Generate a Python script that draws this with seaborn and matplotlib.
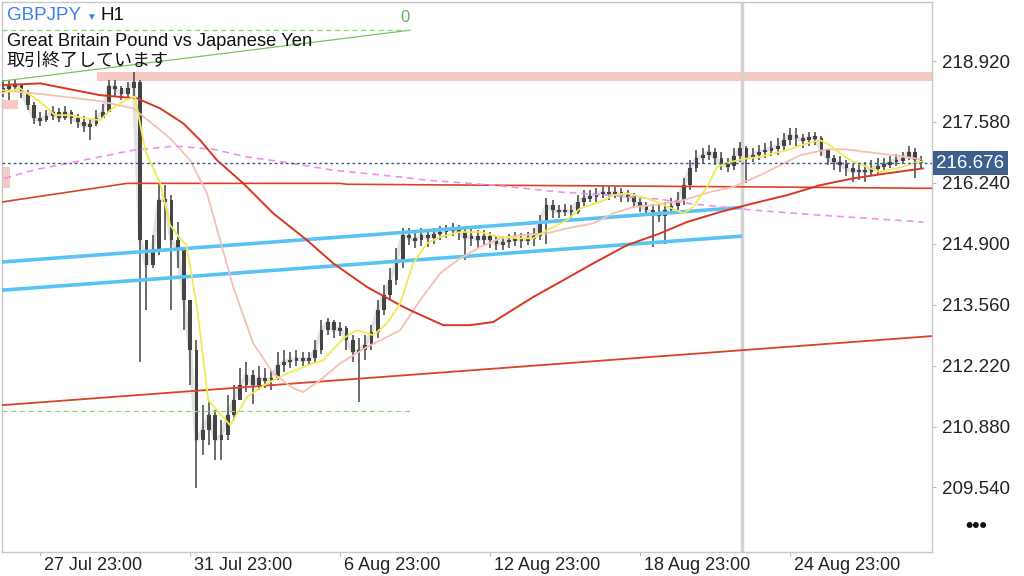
import numpy as np
import pandas as pd
import seaborn as sns
import matplotlib
matplotlib.use("Agg")
import matplotlib.pyplot as plt
from matplotlib.patches import Rectangle
from matplotlib import transforms

# GBPJPY H1 chart, resampled to 4h bars
closes = [218.32, 218.37, 218.41, 218.24, 217.95, 217.66, 217.62, 217.71, 217.80, 217.66,
          217.80, 217.66, 217.58, 217.49, 217.53, 217.66, 217.80, 218.37, 218.32, 218.19,
          218.32, 218.46, 214.98, 214.43, 214.76, 215.86, 215.86, 214.98, 214.76, 213.66,
          212.56, 210.58, 210.80, 211.13, 210.58, 210.69, 211.13, 211.46, 211.79, 212.01,
          211.79, 211.94, 211.90, 211.94, 212.23, 212.30, 212.34, 212.38, 212.34, 212.38,
          212.56, 213.00, 213.18, 213.00, 213.04, 212.78, 212.52, 212.56, 212.67, 212.96,
          213.44, 213.77, 214.10, 214.54, 215.09, 215.02, 214.98, 215.09, 215.02, 215.11,
          215.16, 215.20, 215.24, 215.16, 215.02, 215.07, 214.98, 215.07, 214.98, 214.89,
          214.94, 214.98, 215.02, 214.98, 215.02, 215.07, 215.38, 215.75, 215.64, 215.60,
          215.64, 215.60, 215.82, 215.90, 215.95, 215.99, 216.04, 215.99, 216.04, 215.95,
          215.95, 215.82, 215.73, 215.64, 215.60, 215.51, 215.64, 215.73, 215.86, 216.19,
          216.56, 216.78, 216.85, 216.92, 216.78, 216.65, 216.61, 216.83, 217.00, 216.78,
          216.85, 216.92, 216.96, 217.00, 217.05, 217.18, 217.29, 217.22, 217.18, 217.25,
          217.22, 216.96, 216.78, 216.70, 216.65, 216.56, 216.48, 216.52, 216.48, 216.56,
          216.61, 216.63, 216.70, 216.74, 216.78, 216.92, 216.74, 216.676]
highs = [218.50, 218.50, 218.52, 218.41, 218.28, 218.02, 217.80, 217.84, 217.93, 217.88,
         217.93, 217.84, 217.75, 217.71, 217.66, 217.84, 217.97, 218.50, 218.50, 218.37,
         218.46, 218.68, 218.50, 214.98, 215.09, 216.23, 216.19, 215.97, 215.38, 214.65,
         213.66, 212.78, 211.35, 211.46, 211.24, 211.02, 211.57, 211.79, 212.16, 212.30,
         212.12, 212.21, 212.16, 212.12, 212.52, 212.56, 212.52, 212.56, 212.52, 212.52,
         212.78, 213.22, 213.26, 213.22, 213.18, 213.09, 212.89, 212.82, 212.89, 213.11,
         213.66, 213.99, 214.36, 214.80, 215.24, 215.24, 215.16, 215.24, 215.22, 215.24,
         215.29, 215.31, 215.35, 215.31, 215.24, 215.22, 215.20, 215.20, 215.16, 215.07,
         215.07, 215.11, 215.16, 215.13, 215.16, 215.24, 215.53, 215.90, 215.86, 215.75,
         215.77, 215.75, 215.97, 216.08, 216.08, 216.12, 216.17, 216.17, 216.15, 216.12,
         216.08, 216.01, 215.90, 215.82, 215.77, 215.75, 215.82, 215.90, 216.04, 216.34,
         216.74, 216.96, 217.00, 217.07, 217.00, 216.92, 216.78, 217.00, 217.14, 217.05,
         217.00, 217.07, 217.11, 217.16, 217.22, 217.33, 217.44, 217.44, 217.31, 217.36,
         217.36, 217.27, 216.96, 216.85, 216.83, 216.74, 216.65, 216.65, 216.70, 216.74,
         216.78, 216.78, 216.83, 216.87, 216.92, 217.05, 217.00, 216.83]
lows = [218.13, 218.06, 218.24, 218.10, 217.84, 217.53, 217.49, 217.58, 217.62, 217.58,
        217.62, 217.53, 217.44, 217.36, 217.18, 217.49, 217.66, 217.80, 218.15, 218.06,
        218.10, 218.15, 212.30, 213.44, 214.36, 214.65, 214.98, 213.44, 214.36, 213.00,
        211.79, 209.52, 210.25, 210.47, 210.14, 210.14, 210.58, 211.02, 211.46, 211.64,
        211.37, 211.68, 211.72, 211.68, 211.90, 212.08, 212.16, 212.21, 212.21, 212.25,
        212.30, 212.47, 212.89, 212.82, 212.87, 212.56, 212.30, 211.42, 212.34, 212.56,
        212.82, 213.33, 213.66, 213.99, 214.36, 214.87, 214.80, 214.85, 214.83, 214.89,
        214.98, 215.02, 215.07, 214.98, 214.54, 214.85, 214.80, 214.87, 214.80, 214.76,
        214.76, 214.80, 214.85, 214.80, 214.87, 214.85, 214.98, 214.89, 215.46, 215.46,
        215.51, 215.46, 215.55, 215.73, 215.82, 215.82, 215.90, 215.86, 215.90, 215.82,
        215.82, 215.68, 215.60, 215.51, 214.83, 215.38, 214.89, 215.55, 215.64, 215.75,
        216.08, 216.48, 216.65, 216.74, 216.63, 216.52, 216.48, 216.52, 216.70, 216.23,
        216.70, 216.74, 216.78, 216.83, 216.85, 216.96, 217.07, 217.05, 217.00, 217.05,
        217.07, 216.83, 216.63, 216.52, 216.48, 216.39, 216.26, 216.30, 216.26, 216.39,
        216.43, 216.52, 216.56, 216.61, 216.65, 216.74, 216.34, 216.56]
first_open = 218.24
last_price = 216.676

# indicator lines (bar index, price)
ma_fast_x = [-0.1, 2.8, 6.0, 8.4, 10.8, 13.2, 15.6, 17.2, 19.6, 21.2, 22.8, 25.2, 26.8, 28.4,
             29.4, 31.1, 32.9, 36.4, 39.1, 42.3, 45.5, 49.7, 51.3, 54.5, 56.7, 59.3, 61.5,
             63.6, 65.7, 67.9, 70.0, 73.2, 76.4, 79.6, 82.8, 84.9, 87.1, 90.3, 92.4, 95.6,
             97.7, 99.9, 103.1, 105.2, 108.9, 110.5, 112.7, 114.3, 116.4, 119.1, 121.2,
             123.3, 125.5, 128.7, 130.8, 132.4, 135.1, 138.3, 140.4, 143.1, 145.7, 147.3]
ma_fast_y = [218.21, 218.32, 218.02, 217.73, 217.73, 217.66, 217.62, 217.84, 218.06, 218.13,
             216.96, 216.23, 215.31, 215.02, 214.87, 213.51, 211.46, 210.91, 211.53, 211.83,
             212.05, 212.27, 212.34, 212.82, 213.00, 212.89, 213.15, 213.59, 214.47, 214.91,
             215.05, 215.16, 215.16, 215.05, 215.02, 215.02, 215.20, 215.42, 215.68, 215.82,
             215.97, 216.01, 215.90, 215.79, 215.57, 215.71, 216.15, 216.59, 216.70, 216.78,
             216.81, 216.89, 216.96, 217.11, 217.18, 217.07, 216.78, 216.59, 216.48, 216.56,
             216.67, 216.72]
ma_mid_x = [-0.1, 6.5, 15.6, 20.9, 23.6, 26.8, 30.0, 32.7, 34.8, 36.9, 40.1, 43.3, 46.5, 48.1,
            50.8, 54.0, 58.3, 61.5, 63.6, 66.8, 70.0, 73.2, 76.4, 79.6, 82.8, 87.1, 90.3,
            94.5, 97.7, 100.9, 104.1, 108.9, 113.2, 116.9, 121.2, 124.4, 127.6, 131.9, 134.8,
            138.3, 143.6, 146.8]
ma_mid_y = [218.28, 218.19, 218.04, 217.88, 217.58, 217.22, 216.74, 216.01, 214.98, 213.95,
            212.71, 212.05, 211.72, 211.64, 211.90, 212.27, 212.63, 212.85, 213.00, 213.66,
            214.25, 214.58, 214.83, 215.02, 215.09, 215.13, 215.24, 215.35, 215.57, 215.71,
            215.75, 215.86, 216.04, 216.15, 216.41, 216.63, 216.85, 216.98, 216.98, 216.92,
            216.83, 216.76]
ma_slow_x = [-0.1, 6.0, 15.6, 21.5, 25.2, 28.9, 31.6, 34.3, 38.5, 43.3, 48.7, 52.9, 58.3, 63.6,
             65.2, 70.5, 74.8, 78.5, 80.7, 84.9, 89.2, 94.5, 99.9, 105.2, 109.5, 114.8, 120.1,
             125.5, 130.8, 136.1, 141.5, 147.3]
ma_slow_y = [218.39, 218.43, 218.17, 218.10, 217.88, 217.55, 217.18, 216.74, 216.23, 215.57,
             214.98, 214.47, 213.95, 213.55, 213.44, 213.11, 213.11, 213.18, 213.37, 213.73,
             214.06, 214.47, 214.87, 215.13, 215.38, 215.60, 215.79, 215.97, 216.19, 216.34,
             216.45, 216.56]
ma_dash_x = [0.3, 4.9, 12.9, 20.9, 27.6, 33.7, 39.1, 44.9, 52.9, 63.6, 67.9, 78.5, 89.2, 94.5,
             98.8, 105.2, 109.5, 120.1, 130.8, 147.3]
ma_dash_y = [216.34, 216.52, 216.74, 216.96, 217.05, 216.98, 216.81, 216.70, 216.52, 216.37,
             216.30, 216.19, 216.04, 215.99, 215.95, 215.88, 215.79, 215.64, 215.53, 215.38]
hi_line_x = [-0.1, 19.9, 54.0, 55.1, 77.5, 122.8, 148.7]
hi_line_y = [215.82, 216.23, 216.23, 216.21, 216.19, 216.15, 216.12]
low_trend_x = [-0.1, 148.7]
low_trend_y = [211.35, 212.87]
chan_x = [-0.1, 118.3]
chan_upper = [214.50, 215.70]
chan_lower = [213.88, 215.07]
fib_x = [-0.1, 65.2]
fib_line = [218.48, 219.60]
fib_levels = [219.60, 211.22]
sep_x = 118.3

zone_start = [15.1, -0.1, -0.1]
zone_end = [148.7, 2.5, 1.2]
zone_top = [218.68, 218.06, 216.59]
zone_bottom = [218.48, 217.86, 216.12]

yticks = [218.920, 217.580, 216.240, 214.900, 213.560, 212.220, 210.880, 209.540]
xtick_pos = [6, 30, 54, 78, 102, 126]
xtick_labels = ["27 Jul 23:00", "31 Jul 23:00", "6 Aug 23:00",
                "12 Aug 23:00", "18 Aug 23:00", "24 Aug 23:00"]

sns.set_theme(style="white")
plt.rcParams['font.family'] = ['Liberation Sans', 'Noto Sans CJK JP', 'DejaVu Sans']

fig = plt.figure(figsize=(10.24, 5.76), dpi=100)
ax = fig.add_axes([2 / 1024, 1 - 552 / 576, 930 / 1024, 550 / 576])

# zones
for s, e, t, b in zip(zone_start, zone_end, zone_top, zone_bottom):
    ax.add_patch(Rectangle((s, b), e - s, t - b, color="#f7c9c4", lw=0, zorder=1))

ax.axvline(sep_x, color="#d2d2d2", lw=2.5, zorder=1)

# candles
x = np.arange(len(closes))
c = np.array(closes)
o = np.array([first_open] + closes[:-1])
h = np.maximum.reduce([np.array(highs), o, c])
l = np.minimum.reduce([np.array(lows), o, c])
ax.plot(x, c, color="#e2e2e2", lw=3, zorder=2)
ax.vlines(x, l, h, color="#444444", lw=1.1, zorder=3)
body_h = np.maximum(np.abs(c - o), 0.06)
body_low = np.minimum(o, c) - (body_h - np.abs(c - o)) / 2
ax.bar(x, body_h, bottom=body_low, width=0.6, color="#444444",
       edgecolor="none", linewidth=0, zorder=3)

# trend lines and channel
ax.plot(chan_x, chan_upper, color="#5ac3f5", lw=2.6, zorder=4, solid_capstyle="butt")
ax.plot(chan_x, chan_lower, color="#5ac3f5", lw=2.6, zorder=4, solid_capstyle="butt")
ax.plot(low_trend_x, low_trend_y, color="#d9432a", lw=1.3, zorder=4)
ax.plot(hi_line_x, hi_line_y, color="#d9432a", lw=1.2, zorder=4)
ax.plot(fib_x, fib_line, color="#74c65a", lw=0.9, zorder=4)
for lv in fib_levels:
    ax.plot(fib_x, [lv, lv], color="#8fd07a", lw=0.9, linestyle=(0, (4, 3)), zorder=4)

# moving averages
sns.lineplot(x=ma_mid_x, y=ma_mid_y, ax=ax, color="#f6bfb4", lw=1.3, zorder=4)
sns.lineplot(x=ma_slow_x, y=ma_slow_y, ax=ax, color="#d8361f", lw=1.4, zorder=5)
sns.lineplot(x=ma_fast_x, y=ma_fast_y, ax=ax, color="#efeb52", lw=1.3, zorder=5)
ax.plot(ma_dash_x, ma_dash_y, color="#f08ef0", lw=1.2, linestyle=(0, (4, 3)), zorder=4)

ax.axhline(last_price, color="#3a5a8c", lw=1, linestyle=(0, (2, 2)), zorder=5)

ax.set_xlim(-0.1, 148.7)
ax.set_ylim(208.12, 220.22)

# axes styling
for sp in ax.spines.values():
    sp.set_color("#c8c8c8")
    sp.set_linewidth(1)
ax.yaxis.tick_right()
ax.set_yticks(yticks)
ax.set_yticklabels([f"{v:.3f}" for v in yticks])
ax.tick_params(axis="y", length=3, width=0.8, color="#b8b8b8", pad=4,
               labelsize=13.5, labelcolor="#222222", right=True, left=False)
ax.set_xticks(xtick_pos)
ax.set_xticklabels(xtick_labels)
ax.tick_params(axis="x", length=3, width=0.8, color="#b8b8b8", pad=0.5,
               labelsize=13, labelcolor="#222222", bottom=True)
shift = transforms.ScaledTranslation(3 / 72, 0, fig.dpi_scale_trans)
for lab in ax.get_xticklabels():
    lab.set_ha("left")
    lab.set_transform(lab.get_transform() + shift)
ax.set_xlabel("")
ax.set_ylabel("")

# current price tag
tag_tr = transforms.blended_transform_factory(ax.transAxes, ax.transData)
ax.text(1.0045, last_price, "216.676", transform=tag_tr, ha="left", va="center",
        fontsize=13.5, color="white", clip_on=False, zorder=6,
        bbox=dict(boxstyle="square,pad=0.18", fc="#3e5f8e", ec="none"))

# header texts
fig.text(7 / 1024, 1 - 16 / 576, "GBPJPY", fontsize=13.5, color="#3b7ff2", va="center")
fig.text(86 / 1024, 1 - 17 / 576, "▼", fontsize=7, color="#3b7ff2", va="center")
fig.text(100 / 1024, 1 - 16 / 576, "H1", fontsize=13.5, color="#111111", va="center")
fig.text(7 / 1024, 1 - 41 / 576, "Great Britain Pound vs Japanese Yen", fontsize=13.2,
         color="#111111", va="center")
fig.text(7 / 1024, 1 - 61 / 576, "取引終了しています", fontsize=13, color="#111111",
         va="center", family=['Noto Sans CJK JP', 'DejaVu Sans'])
fig.text(405 / 1024, 1 - 18 / 576, "0", fontsize=12, color="#5cb85c", va="center", ha="center")
fig.text(976 / 1024, 1 - 527 / 576, "•••", fontsize=15, color="#111111", va="center",
         ha="center", weight="bold")

fig.savefig("out.png", dpi=100)
